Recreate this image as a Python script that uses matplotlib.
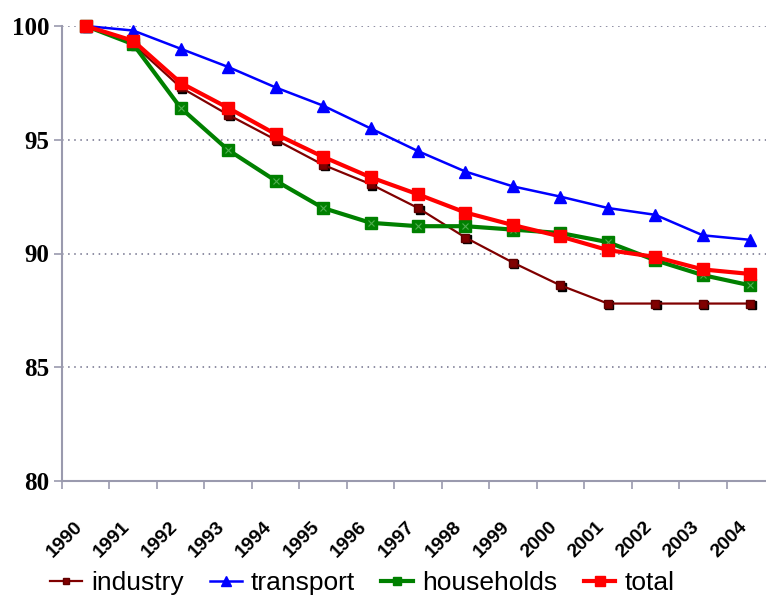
import numpy as np
import matplotlib
matplotlib.use('Agg')
from matplotlib import pyplot as plt
from matplotlib import transforms

years = [str(y) for y in range(1990, 2005)]
industry = [100, 99.2, 97.3, 96.1, 95.0, 93.9, 93.05, 92.0, 90.7, 89.6, 88.6, 87.8, 87.8, 87.8, 87.8]
transport = [100, 99.8, 99.0, 98.2, 97.3, 96.5, 95.5, 94.5, 93.6, 92.95, 92.5, 92.0, 91.7, 90.8, 90.6]
households = [100, 99.2, 96.4, 94.55, 93.2, 92.0, 91.35, 91.2, 91.2, 91.05, 90.9, 90.5, 89.7, 89.05, 88.6]
total = [100, 99.35, 97.5, 96.4, 95.25, 94.25, 93.35, 92.6, 91.8, 91.25, 90.75, 90.15, 89.85, 89.3, 89.1]
y_ticks = [80, 85, 90, 95, 100]

axis_col = '#9a9aae'

fig = plt.figure(figsize=(7.66, 5.97), dpi=100)
ax = fig.add_axes([62 / 766, 1 - 481 / 597, 712 / 766, 455 / 597])

x = np.arange(len(years))
# industry squares carry a small dark drop shadow
shadow = transforms.ScaledTranslation(1.5 / 100, -1.5 / 100, fig.dpi_scale_trans)
ax.plot(x, industry, ls='none', marker='s', ms=6, color='black',
        transform=ax.transData + shadow, clip_on=False, zorder=2.9)
ax.plot(x, industry, color='#800000', lw=1.6, marker='s', ms=6,
        mec='#600000', label='industry', clip_on=False, zorder=3)
ax.plot(x, transport, color='#0000ff', lw=1.8, marker='^', ms=9,
        label='transport', clip_on=False, zorder=4)
ax.plot(x, households, color='#008000', lw=3, marker='s', ms=8,
        label='households', clip_on=False, zorder=3)
ax.plot(x, households, ls='none', marker='x', ms=4, mew=0.8, color='#4fae4f',
        clip_on=False, zorder=3.1)
ax.plot(x, total, color='#ff0000', lw=3, marker='s', ms=9,
        label='total', clip_on=False, zorder=5)

ax.set_xlim(-0.5, len(years) - 0.5)
ax.set_ylim(80, 100)
ax.set_yticks(y_ticks)
ax.set_yticklabels([str(v) for v in y_ticks], family='Liberation Serif',
                   fontweight='bold', fontsize=18)
for v in y_ticks[1:]:
    ax.axhline(v, color='#6f6f8a', lw=1.1, ls=(0, (1, 3)), zorder=1)

ax.set_xticks(np.arange(len(years) + 1) - 0.5)
ax.set_xticklabels([])
ax.set_xticks(x, minor=True)
ax.set_xticklabels(years, minor=True, rotation=45, ha='right', va='center',
                   rotation_mode='anchor', family='Liberation Sans',
                   fontweight='bold', fontsize=14)
ax.tick_params(axis='x', which='minor', length=0, pad=31)
offset = transforms.ScaledTranslation(-6 / 100, 0, fig.dpi_scale_trans)
for lbl in ax.get_xticklabels(minor=True):
    lbl.set_transform(lbl.get_transform() + offset)
ax.tick_params(axis='x', which='major', length=6, color=axis_col, width=1.2)
ax.tick_params(axis='y', length=6, color=axis_col, width=1.2, pad=3)

for s in ['top', 'right']:
    ax.spines[s].set_visible(False)
for s in ['left', 'bottom']:
    ax.spines[s].set_color(axis_col)
    ax.spines[s].set_linewidth(1.5)

handles, labels = ax.get_legend_handles_labels()
fig.legend(handles, labels, loc='center', bbox_to_anchor=(0.473, 1 - 583 / 597),
           ncol=4, frameon=False,
           prop={'family': 'Liberation Sans', 'size': 19},
           handlelength=1.2, handletextpad=0.35, columnspacing=1.0, markerscale=0.8)

fig.savefig('out.png', dpi=100)
